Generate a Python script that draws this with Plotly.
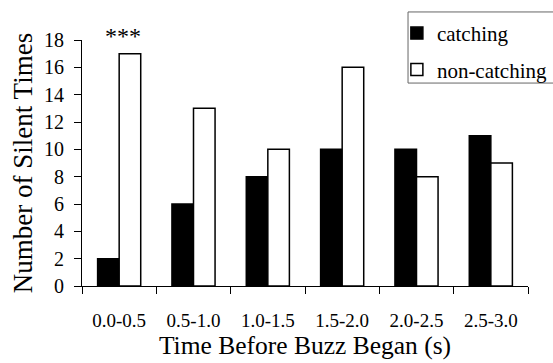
import plotly.graph_objects as go

categories = ["0.0-0.5", "0.5-1.0", "1.0-1.5", "1.5-2.0", "2.0-2.5", "2.5-3.0"]
catching = [2, 6, 8, 10, 10, 11]
non_catching = [17, 13, 10, 16, 8, 9]
y_ticks = [0, 2, 4, 6, 8, 10, 12, 14, 16, 18]

FONT = "Liberation Serif"

fig = go.Figure()
fig.add_trace(go.Bar(x=categories, y=catching, name="catching", legendgroup="a",
                     marker=dict(color="black", line=dict(color="black", width=1.5))))
fig.add_trace(go.Bar(x=categories, y=non_catching, name="non-catching", legendgroup="b",
                     marker=dict(color="white", line=dict(color="black", width=1.5))))

fig.update_layout(
    width=553, height=363,
    margin=dict(l=82, r=25, t=40, b=77, autoexpand=False),
    paper_bgcolor="white", plot_bgcolor="white",
    barmode="group", bargap=0.42, bargroupgap=0,
    font=dict(family=FONT, size=19, color="black"),
    showlegend=True,
    legend=dict(x=0.706, y=1.11, xanchor="left", yanchor="top",
                borderwidth=0, bgcolor="rgba(0,0,0,0)",
                font=dict(family=FONT, size=21, color="black"),
                itemwidth=30, traceorder="grouped", tracegroupgap=6),
)
# legend frame
fig.add_shape(type="rect", xref="paper", yref="paper",
              x0=0.731, x1=1.07, y0=0.825, y1=1.114,
              line=dict(color="#666", width=1), fillcolor="rgba(0,0,0,0)", layer="below")
fig.update_xaxes(
    type="category", showline=True, linecolor="black", linewidth=1,
    ticks="outside", tickson="boundaries", ticklen=7, tickcolor="black",
    ticklabelstandoff=17, automargin=False,
    showgrid=False, zeroline=False,
    tickfont=dict(family=FONT, size=19, color="black"),
    title=dict(text="Time Before Buzz Began (s)", font=dict(family=FONT, size=25.5, color="black"), standoff=4),
)
fig.update_yaxes(
    range=[0, 18], tickvals=y_ticks, showline=True, linecolor="black", linewidth=1,
    ticks="outside", ticklen=7, tickcolor="black", ticklabelstandoff=6, automargin=False,
    showgrid=False, zeroline=False,
    tickfont=dict(family=FONT, size=20, color="black"),
    title=dict(text="Number of Silent Times", font=dict(family=FONT, size=27, color="black"), standoff=3),
)
fig.add_annotation(x=categories[0], y=18, xref="x", yref="y", text="***", showarrow=False,
                   xshift=4, yshift=4, yanchor="middle",
                   font=dict(family=FONT, size=24, color="black"))

fig.write_html("out.html")
